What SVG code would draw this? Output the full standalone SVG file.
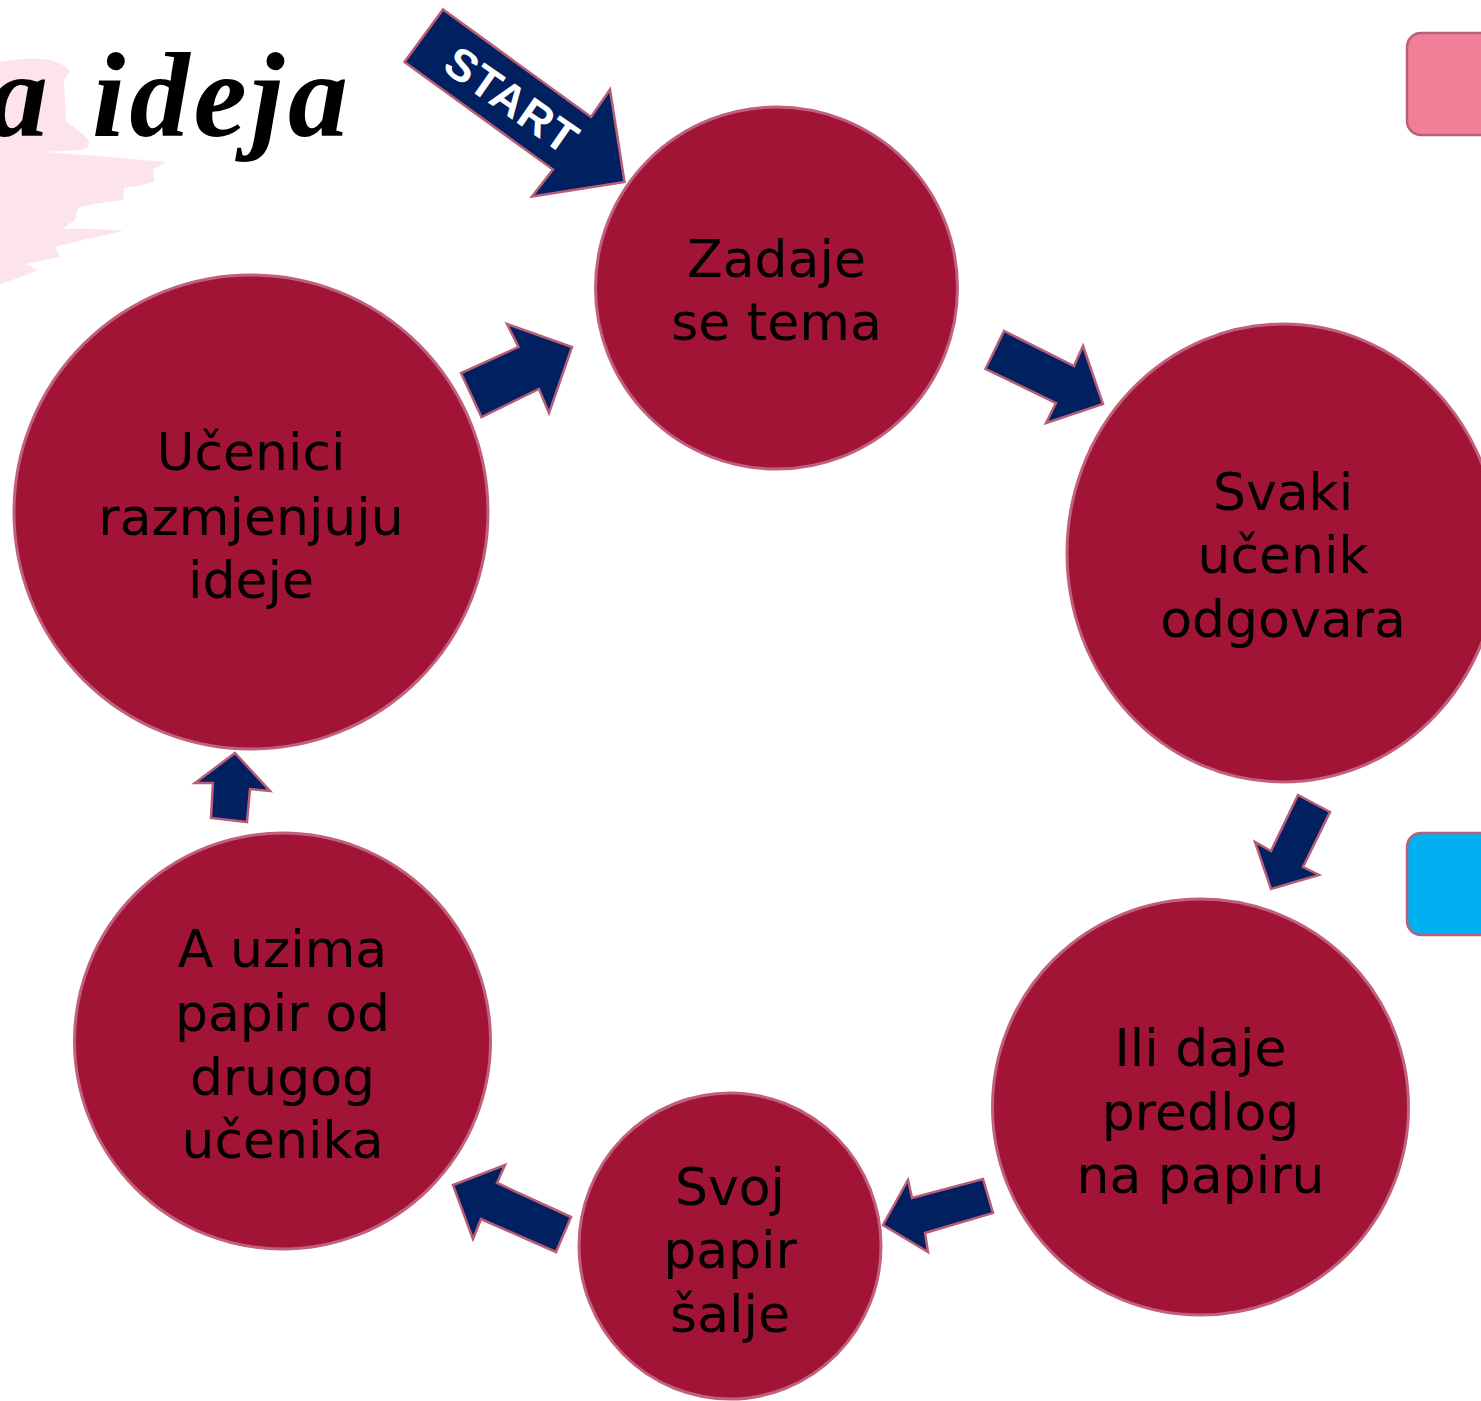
<svg xmlns="http://www.w3.org/2000/svg" width="1481" height="1401" viewBox="0 0 1481 1401">
<style>
.node{fill:#a21435;stroke:#c0607c;stroke-width:3}
.lbl{font-family:"DejaVu Sans","Liberation Sans",sans-serif;font-size:52px;fill:#000;text-anchor:middle}
.arr{fill:#002060;stroke:#b85c77;stroke-width:2.5;stroke-linejoin:miter}
.box{stroke:#b8607a;stroke-width:2.5}
</style>
<rect width="1481" height="1401" fill="#ffffff"/>
<g id="title">
<path d="M0,62 Q30,56 50,60 Q66,64 70,72 L64,80 L66,122 Q80,130 88,140 Q92,148 80,150 L45,152 Q100,156 166,162 Q160,167 153,169 L154,182 Q140,186 124,188 L123,200 Q95,203 78,208 L75,220 L62,229 Q95,228 124,231 Q80,240 55,247 L60,257 L25,264 L38,270 Q20,278 0,284 Z" fill="#fce4ea"/>
<text x="352" y="136" text-anchor="end" font-family="'Liberation Serif',serif" font-weight="bold" font-style="italic" font-size="120" letter-spacing="4" word-spacing="6" fill="#000">a ideja</text>
</g>
<g id="side-boxes">
<rect class="box" x="1407" y="33" width="110" height="102" rx="14" fill="#f07f97"/>
<rect class="box" x="1407" y="833" width="110" height="102" rx="14" fill="#00b0f0"/>
</g>
<g id="start">
<polygon class="arr" points="404.5,62 443,9.5 591,117 610,89.5 624.5,182 532,196.5 553,169.5"/>
<text transform="translate(512,100) rotate(35)" x="0" y="16" text-anchor="middle" font-family="'Liberation Sans',sans-serif" font-weight="bold" font-size="45" letter-spacing="1" fill="#ffffff">START</text>
</g>
<g id="connectors">
<polygon class="arr" points="461,373 481.5,417 539,389 549,413 572,347 507,324 518.5,347"/>
<polygon class="arr" points="985.5,369 1004,331 1074,366 1083,346 1103,404 1046,423 1056,403"/>
<polygon class="arr" points="1298,795 1330,812 1303,867 1319,875 1271,889 1255,842 1271,851"/>
<polygon class="arr" points="983,1179 993,1213 925,1233 928,1252 883,1225 908,1180 912,1198"/>
<polygon class="arr" points="571,1217 556,1252 481,1219 473,1239 453,1185 505,1165 497,1183"/>
<polygon class="arr" points="235,753 270,791 250,789 247,822 211,818 213,783 195,783"/>
</g>
<g id="node1">
<circle class="node" cx="776.5" cy="288" r="181"/>
<text class="lbl" x="776.5" y="277">Zadaje</text>
<text class="lbl" x="776.5" y="340">se tema</text>
</g>
<g id="node2">
<ellipse class="node" cx="1283" cy="553" rx="216" ry="229"/>
<text class="lbl" x="1283" y="510">Svaki</text>
<text class="lbl" x="1283" y="573">učenik</text>
<text class="lbl" x="1283" y="637">odgovara</text>
</g>
<g id="node3">
<circle class="node" cx="1200.5" cy="1107" r="208"/>
<text class="lbl" x="1200.5" y="1066">Ili daje</text>
<text class="lbl" x="1200.5" y="1130">predlog</text>
<text class="lbl" x="1200.5" y="1193">na papiru</text>
</g>
<g id="node4">
<ellipse class="node" cx="730" cy="1246" rx="151" ry="153"/>
<text class="lbl" x="730" y="1205">Svoj</text>
<text class="lbl" x="730" y="1268">papir</text>
<text class="lbl" x="730" y="1332">šalje</text>
</g>
<g id="node5">
<circle class="node" cx="282.5" cy="1041" r="208"/>
<text class="lbl" x="282.5" y="967">A uzima</text>
<text class="lbl" x="282.5" y="1031">papir od</text>
<text class="lbl" x="282.5" y="1095">drugog</text>
<text class="lbl" x="282.5" y="1158">učenika</text>
</g>
<g id="node6">
<circle class="node" cx="251" cy="512" r="237"/>
<text class="lbl" x="251" y="470">Učenici</text>
<text class="lbl" x="251" y="535">razmjenjuju</text>
<text class="lbl" x="251" y="598">ideje</text>
</g>
</svg>
